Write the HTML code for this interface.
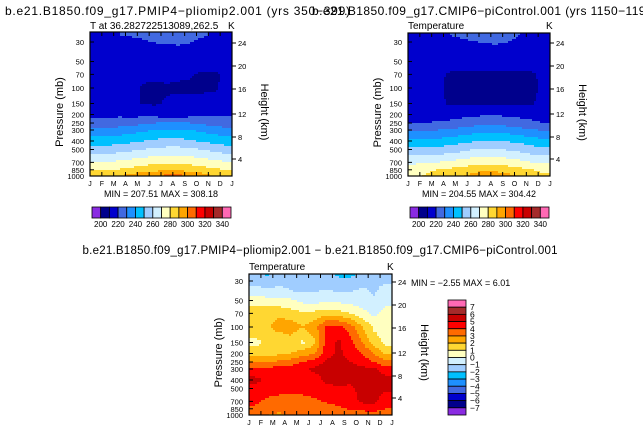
<!DOCTYPE html>
<html><head><meta charset="utf-8">
<style>
body{margin:0;background:#fff;}
svg{display:block;font-family:"Liberation Sans",sans-serif;}
</style></head>
<body>
<svg id="fig" width="643" height="434" viewBox="0 0 643 434" xmlns="http://www.w3.org/2000/svg">
<text x="5" y="15" font-size="12" textLength="345">b.e21.B1850.f09_g17.PMIP4−pliomip2.001 (yrs 350−399)</text>
<text x="312" y="15" font-size="12" textLength="345">b.e21.B1850.f09_g17.CMIP6−piControl.001 (yrs 1150−1199)</text>
<text x="90" y="29" font-size="10">T at 36.282722513089,262.5</text>
<text x="228" y="29" font-size="10">K</text>
<text x="408" y="29" font-size="10">Temperature</text>
<text x="546" y="29" font-size="10">K</text>
<text x="161" y="197" font-size="9" text-anchor="middle">MIN = 207.51  MAX = 308.18</text>
<text x="479" y="197" font-size="9" text-anchor="middle">MIN = 204.55  MAX = 304.42</text>
<text x="320" y="254" font-size="11.5" text-anchor="middle" textLength="475">b.e21.B1850.f09_g17.PMIP4−pliomip2.001 − b.e21.B1850.f09_g17.CMIP6−piControl.001</text>
<text x="249" y="270" font-size="10">Temperature</text>
<text x="387" y="270" font-size="10">K</text>
<text x="411" y="286" font-size="9">MIN =   −2.55  MAX =   6.01</text>
<g id="layer"></g>
</svg>
<script>
const months = ['J','F','M','A','M','J','J','A','S','O','N','D','J'];
const levels = [25,30,40,50,70,100,150,200,250,300,400,500,700,850,1000];
const pressureTicks = [30,50,70,100,150,200,250,300,400,500,700,850,1000];
const heightTicks = [24,20,16,12,8,4];
const tempBarLabels = [200,220,240,260,280,300,320,340];
const diffBarLabels = [7,6,5,4,3,2,1,0,-1,-2,-3,-4,-5,-6,-7];
const p1Values = [
[219,219,220,221,222,224,225,225,223,221,219,219],
[216,216,216,217,219,220.5,221.5,222,220.5,218,216,216],
[215,215,215,215,215,215,215,215,215,215,215,215],
[214,214,214,214,214,214,214,214,214,214,214,214],
[213,213,213,213,212,211,212,211,210.5,209,209,211],
[213,213,213,212,209,209,209,209,209,209,209,212],
[214,214,214,213,209,209,211,212,212,212,213,214],
[218,218,218,217,217,216,215,215,216,217,218,218],
[224,224,225,226,228,230,231,231,230,228,226,225],
[233,233,234,236,238,240,241,241,240,238,235,233],
[245,245,246,248,250,252,253,253,251,249,247,245],
[255,255,256,258,260,262,263,263,262,260,257,255],
[271,271,272,274,276,278,279,279,277,275,273,271],
[280,280,281,283,285,287,288,288,286,284,282,280],
[285,286,290,294,298,301,303,303,300,295,290,286]];
const p2Values = [
[217,217,218,220,222,224,225,225,223,220,217,217],
[215,215,215,216,218,219.5,221,221.5,220,217,215,215],
[214,214,214,214,214,214,214,214,214,214,214,214],
[213,213,213,212,212,212,212,212,212,212,212,213],
[212,212,211,209.5,209,209,209,209,209,209,209.5,211],
[212,212,211,209,208,208,208,208,208,208,209,211],
[213,213,212,209,209,209,209,209,209,209,209.5,212],
[216,216,216,216,217,218,219,219,218,217,216,216],
[220,220,221,222,224,226,227,227,226,224,222,220],
[229,229,230,231,233,235,236,236,235,233,231,229],
[242,242,243,245,247,249,250,250,249,247,245,242],
[252,252,253,255,257,260,261,261,259,257,254,252],
[268,268,270,272,274,276,277,277,275,273,270,268],
[277,278,280,282,284,286,287,287,285,283,280,278],
[279,281,284,287,290,293,301,296,293,289,285,281]];
const diffValues = [
[-1.5,-2.2,-1.5,-1.5,-1.6,-1.5,-1.5,-2.4,-2.5,-1.5,-1.5,-1.5],
[-1.3,-1.5,-1.2,-1.4,-1.6,-1.5,-1.4,-1.5,-1.5,-1.3,-1.2,-1.1],
[-0.5,-0.8,-0.7,-0.9,-1.1,-1.0,-0.9,-1.0,-1.0,-0.8,-1.1,-0.6],
[0.6,0.5,0.3,0.2,-0.3,-0.4,-0.2,-0.3,-0.4,-0.6,-0.9,-0.5],
[1.5,1.6,1.8,1.4,1.2,1.3,1.6,1.4,1.0,0.4,-0.3,0.5],
[1.6,1.8,2.5,2.6,2.0,2.6,4.2,4.3,3.5,2.0,0.8,0.6],
[0.7,1.2,1.0,1.5,0.8,1.8,4.5,5.2,4.4,3.0,1.5,0.7],
[1.5,1.5,1.8,2.0,2.5,3.0,4.5,5.2,4.6,4.0,3.0,1.8],
[2.8,3.0,3.2,3.5,4.0,4.5,5.2,5.4,5.0,4.6,4.0,3.2],
[4.3,4.3,4.4,4.5,4.8,5.2,5.4,5.5,5.4,5.3,5.1,4.5],
[5.3,4.8,4.4,4.3,4.5,4.6,5.2,5.3,5.2,5.4,5.5,5.3],
[4.6,4.5,4.4,4.3,4.4,4.5,4.7,4.9,4.8,5.3,5.4,5.2],
[4.2,3.8,3.6,3.5,3.6,3.8,4.1,4.3,4.6,5.2,5.2,4.4],
[3.8,3.5,3.3,3.2,3.3,3.5,3.6,3.8,4.1,4.3,4.3,4.0],
[3.3,3.0,2.8,3.2,3.4,3.3,3.2,3.1,3.3,3.4,3.6,3.5]];
const palette = ['#8a2be2','#00008c','#0000cd','#4169e1','#1e90ff','#00c0ff','#a0cdff','#d2f0ff','#ffffc0','#ffd732','#ffa500','#ff6a00','#ff0000','#c80000','#a52a2a','#ff69b4'];

const NS='http://www.w3.org/2000/svg';
const layer=document.getElementById('layer');
function mk(tag,attrs,parent){const e=document.createElementNS(NS,tag);for(const k in attrs)e.setAttribute(k,attrs[k]);(parent||layer).appendChild(e);return e;}
function binOf(v,b0,step){let i=Math.floor((v-b0)/step)+1;return Math.max(0,Math.min(15,i));}

function drawPanel(name,g,values,b0,step){
  const grp=mk('g',{});
  
  
  const yP=p=>g.y30+Math.log10(p/30)/Math.log10(1000/30)*134;
  const nc=values[0].length, w=(g.x1-g.x0)/nc;
  const rowY=levels.map(yP);
  const sample=(x,y)=>{
    let cf=(x-g.x0)/w-0.5; cf=Math.max(0,Math.min(nc-1,cf));
    const c0=Math.min(nc-2,Math.floor(cf)), ct=cf-c0;
    let r0=0;
    if(y<=rowY[0]){r0=0;y=rowY[0];}
    else if(y>=rowY[rowY.length-1]){r0=rowY.length-2;y=rowY[rowY.length-1];}
    else{while(rowY[r0+1]<y)r0++;}
    const rt=(y-rowY[r0])/(rowY[r0+1]-rowY[r0]);
    const a=values[r0][c0]*(1-ct)+values[r0][c0+1]*ct;
    const b=values[r0+1][c0]*(1-ct)+values[r0+1][c0+1]*ct;
    return a*(1-rt)+b*rt;
  };
  const S=2;
  for(let y=g.top;y<g.bot;y+=S){
    let runStart=g.x0, runBin=-1;
    const h=Math.min(S,g.bot-y);
    const flush=(xe)=>{
      if(runBin<0)return;
      const cell=mk('rect',{x:runStart.toFixed(1),y:y.toFixed(1),width:(xe-runStart+0.3).toFixed(1),height:(h+0.3).toFixed(1),fill:palette[runBin]},grp);
      
      
    };
    for(let x=g.x0;x<g.x1;x+=S){
      const bn=binOf(sample(x+S/2,y+h/2),b0,step);
      if(bn!==runBin){flush(x);runStart=x;runBin=bn;}
    }
    flush(g.x1);
  }
  const frame=mk('rect',{x:g.x0,y:g.top,width:g.x1-g.x0,height:g.bot-g.top,fill:'none',stroke:'#000','stroke-width':1.2},grp);
  
  
  const xs=(g.x1-g.x0)/(months.length-1);
  months.forEach((m,i)=>{
    const x=g.x0+i*xs;
    mk('line',{x1:x,x2:x,y1:g.bot,y2:g.bot-4,stroke:'#000'},grp);
    mk('line',{x1:x,x2:x,y1:g.top,y2:g.top+4,stroke:'#000'},grp);
    const t=mk('text',{x:x,y:g.bot+10,'font-size':7,'text-anchor':'middle'},grp);
    t.textContent=m;
    
    
  });
  pressureTicks.forEach(p=>{
    const y=yP(p);
    mk('line',{x1:g.x0,x2:g.x0+4,y1:y,y2:y,stroke:'#000'},grp);
    const t=mk('text',{x:g.x0-6,y:y+3,'font-size':7.5,'text-anchor':'end'},grp);
    t.textContent=p;
    
    
  });
  const hOff=[1,24,47,72,95,117];
  heightTicks.forEach((h,i)=>{
    const y=g.y30+hOff[i];
    mk('line',{x1:g.x1,x2:g.x1+4,y1:y,y2:y,stroke:'#000'},grp);
    const t=mk('text',{x:g.x1+6,y:y+3,'font-size':7.5},grp);
    t.textContent=h;
    
    
  });
  const cy=(g.top+g.bot)/2+8;
  const yl=mk('text',{x:0,y:0,'font-size':11,'text-anchor':'middle',transform:`translate(${g.x0-27},${cy}) rotate(-90)`},grp);
  yl.textContent='Pressure (mb)';
  
  
  const yr=mk('text',{x:0,y:0,'font-size':11,'text-anchor':'middle',transform:`translate(${g.x1+29},${cy}) rotate(90)`},grp);
  yr.textContent='Height (km)';
  
  
}
drawPanel('panel-pliomip',{x0:90,x1:232,top:32,y30:42,bot:176},p1Values,200,10);
drawPanel('panel-picontrol',{x0:408,x1:550,top:33,y30:42,bot:176},p2Values,200,10);
drawPanel('panel-difference',{x0:249,x1:392,top:274,y30:281,bot:415},diffValues,-7,1);

function hbar(name,x0,x1,y){
  const grp=mk('g',{});
  
  
  const w=(x1-x0)/16;
  palette.forEach((c,i)=>{mk('rect',{x:x0+i*w,y:y,width:w,height:11,fill:c,stroke:'#000','stroke-width':0.8},grp);});
  tempBarLabels.forEach((v,i)=>{
    const t=mk('text',{x:x0+(1+2*i)*w,y:y+20,'font-size':8,'text-anchor':'middle'},grp);
    t.textContent=v;
    
    
  });
}
hbar('colorbar-left',92,231,207);
hbar('colorbar-right',410,549,207);
(function(){
  const grp=mk('g',{});
  
  
  const y0=300,y1=415,h=(y1-y0)/16;
  palette.slice().reverse().forEach((c,i)=>{mk('rect',{x:448,y:y0+i*h,width:18,height:h,fill:c,stroke:'#000','stroke-width':0.8},grp);});
  diffBarLabels.forEach((v,i)=>{
    const t=mk('text',{x:470,y:y0+(i+1)*h+3,'font-size':8.5},grp);
    t.textContent=v<0?'−'+(-v):String(v);
    
    
  });
})();
</script>
</body></html>
